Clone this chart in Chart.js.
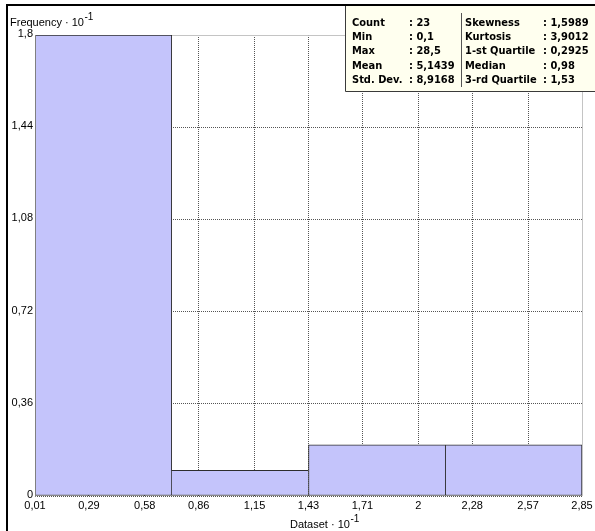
<!DOCTYPE html>
<html>
<head>
<meta charset="utf-8">
<script src="https://cdn.jsdelivr.net/npm/chart.js@4"></script>
<style>
  html, body { margin: 0; padding: 0; background: #fff; }
  canvas { display: block; }
</style>
</head>
<body>
<canvas id="histChart" width="595" height="531"></canvas>
<script>
// histogram bins (Dataset · 10^-1) and their frequencies (· 10^-1)
const binLabels = ["0,01–0,72", "0,72–1,43", "1,43–2,14", "2,14–2,85"];
const frequencies = [1.8, 0.1, 0.2, 0.2];

// axis ticks
const xTickValues = [0.01, 0.29, 0.58, 0.86, 1.15, 1.43, 1.71, 2, 2.28, 2.57, 2.85];
const xTickLabels = ["0,01", "0,29", "0,58", "0,86", "1,15", "1,43", "1,71", "2", "2,28", "2,57", "2,85"];
const yTickValues = [0, 0.36, 0.72, 1.08, 1.44, 1.8];
const yTickLabels = ["0", "0,36", "0,72", "1,08", "1,44", "1,8"];

// statistics box
const statsLeftNames = ["Count", "Min", "Max", "Mean", "Std. Dev."];
const statsLeftValues = [": 23", ": 0,1", ": 28,5", ": 5,1439", ": 8,9168"];
const statsRightNames = ["Skewness", "Kurtosis", "1-st Quartile", "Median", "3-rd Quartile"];
const statsRightValues = [": 1,5989", ": 3,9012", ": 0,2925", ": 0,98", ": 1,53"];

const FONT = "Liberation Sans";

// only one border line between neighbouring bins
function barEdges(i) {
    if (i === undefined) return 1;
    const v = frequencies[i];
    const prev = i > 0 ? frequencies[i - 1] : -1;
    const next = i < frequencies.length - 1 ? frequencies[i + 1] : -1;
    return { top: 1, bottom: 1, left: v >= prev ? 1 : 0, right: v > next ? 1 : 0 };
}

// title with "10^-1" superscript
function drawPowerTitle(ctx, text, x, y) {
    ctx.font = "11px '" + FONT + "'";
    ctx.fillText(text, x, y);
    const w = ctx.measureText(text).width;
    ctx.font = "10px '" + FONT + "'";
    ctx.fillText("-1", x + w + 0.5, y - 6);
}

const overlay = {
    id: "overlay",
    beforeDatasetsDraw(chart) {
        const { ctx, chartArea: a } = chart;
        ctx.save();
        ctx.strokeStyle = "#c4c4c4";
        ctx.lineWidth = 1;
        ctx.beginPath();
        ctx.moveTo(a.left, a.top + 0.5);
        ctx.lineTo(a.right + 0.5, a.top + 0.5);
        ctx.lineTo(a.right + 0.5, a.bottom);
        ctx.stroke();
        ctx.restore();
    },
    afterDatasetsDraw(chart) {
        const { ctx, chartArea: a } = chart;
        ctx.save();
        ctx.strokeStyle = "#808080";
        ctx.lineWidth = 1;
        ctx.beginPath();
        ctx.moveTo(a.left + 0.5, a.top);
        ctx.lineTo(a.left + 0.5, a.bottom + 1);
        ctx.stroke();
        ctx.restore();
    },
    afterDraw(chart) {
        const ctx = chart.ctx;
        ctx.save();

        // outer frame
        ctx.fillStyle = "#000";
        ctx.fillRect(6, 4, 589, 2);
        ctx.fillRect(6, 4, 2, 527);

        // axis titles
        ctx.fillStyle = "#000";
        ctx.textBaseline = "alphabetic";
        drawPowerTitle(ctx, "Frequency \u00B7 10", 10, 26);
        drawPowerTitle(ctx, "Dataset \u00B7 10", 290, 528);

        // statistics box
        ctx.fillStyle = "#ffffef";
        ctx.fillRect(345, 6, 250, 86);
        ctx.strokeStyle = "#3a3a3a";
        ctx.lineWidth = 1;
        ctx.beginPath();
        ctx.moveTo(345.5, 6);
        ctx.lineTo(345.5, 91.5);
        ctx.lineTo(595, 91.5);
        ctx.stroke();
        ctx.strokeStyle = "#555";
        ctx.beginPath();
        ctx.moveTo(461.5, 13);
        ctx.lineTo(461.5, 87);
        ctx.stroke();

        ctx.fillStyle = "#000";
        ctx.font = "bold 11px 'DejaVu Sans Condensed', 'DejaVu Sans'";
        for (let i = 0; i < statsLeftNames.length; i++) {
            const y = 25.5 + i * 14.4;
            ctx.fillText(statsLeftNames[i], 352, y);
            ctx.fillText(statsLeftValues[i], 409, y);
            ctx.fillText(statsRightNames[i], 465, y);
            ctx.fillText(statsRightValues[i], 543, y);
        }
        ctx.restore();
    }
};

const ctx = document.getElementById("histChart").getContext("2d");

new Chart(ctx, {
    type: "bar",
    data: {
        labels: binLabels,
        datasets: [{
            data: frequencies,
            backgroundColor: "#c4c4fb",
            borderColor: "#2e2e2e",
            borderWidth: (c) => barEdges(c.dataIndex),
            borderSkipped: false,
            barPercentage: 1,
            categoryPercentage: 1
        }]
    },
    options: {
        responsive: false,
        animation: false,
        layout: { padding: { left: 0, right: 13, top: 35, bottom: 0 } },
        plugins: {
            legend: { display: false },
            tooltip: { enabled: false }
        },
        scales: {
            x: { display: false },
            xv: {
                type: "linear",
                position: "bottom",
                offset: false,
                min: 0.01,
                max: 2.85,
                afterBuildTicks: (s) => { s.ticks = xTickValues.map(v => ({ value: v })); },
                afterFit: (s) => { s.height = 35; s.paddingLeft = 0; s.paddingRight = 0; },
                ticks: {
                    callback: (v, i) => xTickLabels[i],
                    autoSkip: false,
                    maxRotation: 0,
                    padding: 3,
                    color: "#000",
                    font: { family: FONT, size: 11 }
                },
                grid: { offset: false, color: "#555", lineWidth: 1, drawTicks: false },
                border: { display: false, dash: [1, 1] }
            },
            y: {
                min: 0,
                max: 1.8,
                afterBuildTicks: (s) => { s.ticks = yTickValues.map(v => ({ value: v })); },
                afterFit: (s) => { s.width = 35; s.paddingTop = 0; s.paddingBottom = 0; },
                ticks: {
                    callback: (v, i) => yTickLabels[i],
                    padding: 2,
                    labelOffset: -1,
                    color: "#000",
                    font: { family: FONT, size: 11 }
                },
                grid: { color: "#555", lineWidth: 1, drawTicks: false },
                border: { display: false, dash: [1, 1] }
            }
        }
    },
    plugins: [overlay]
});
</script>
</body>
</html>
